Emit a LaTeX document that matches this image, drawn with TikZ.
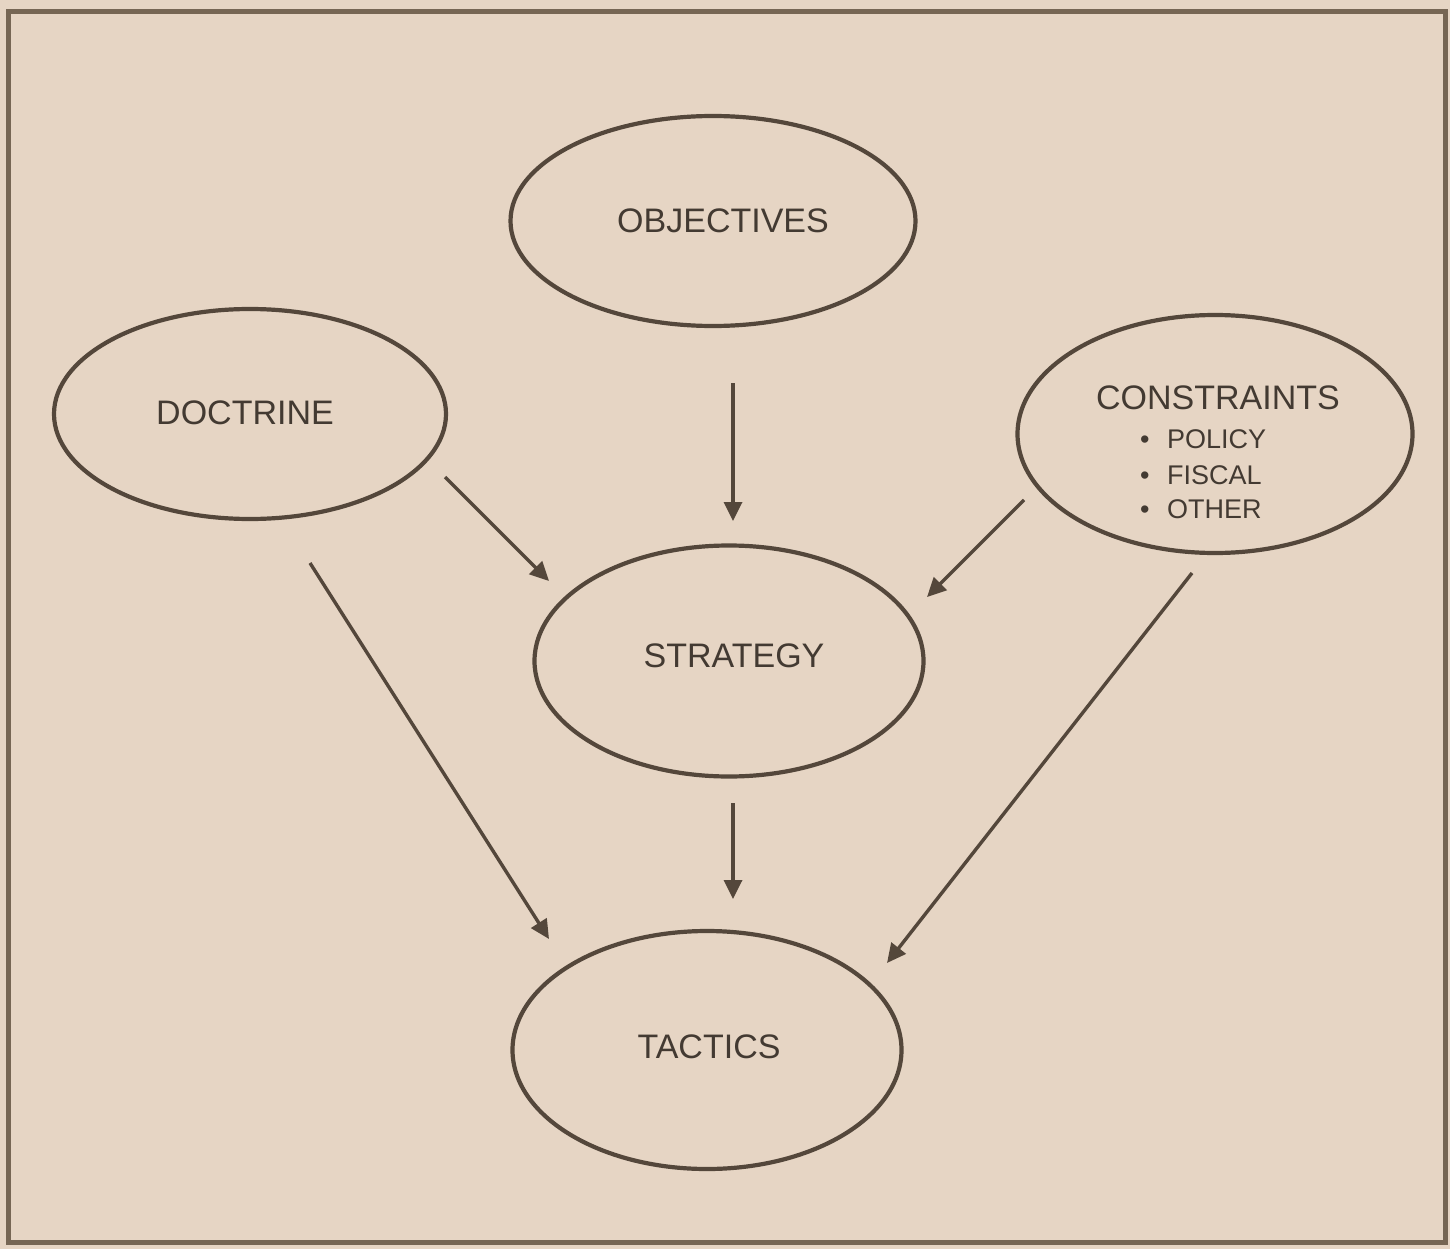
\documentclass[tikz,border=0pt]{standalone}
\usepackage{fontspec}
\setmainfont{Liberation Sans}
\usetikzlibrary{shapes.geometric,arrows.meta}
\definecolor{paper}{HTML}{E6D5C4}
\definecolor{frame}{HTML}{766654}
\definecolor{ink}{HTML}{54473B}
\definecolor{txt}{HTML}{433a32}
\begin{document}
\begin{tikzpicture}[x=1pt,y=-1pt,
  oval/.style={draw=ink,line width=4.2pt,ellipse,inner sep=0pt},
  lbl/.style={text=txt,font=\fontsize{34}{40}\selectfont,inner sep=0pt},
  sublbl/.style={text=txt,font=\fontsize{27}{32}\selectfont,inner sep=0pt,anchor=west},
  conn/.style={draw=ink,line width=3.4pt,-{Triangle[length=19pt,width=18pt]}}]
\fill[paper] (0,0) rectangle (1450,1249);
\useasboundingbox (0,0) rectangle (1450,1249);
\draw[frame,line width=5pt] (8,12) rectangle (1445,1242);
% ellipses
\node[oval,minimum width=405pt,minimum height=210pt] (obj) at (713,221) {};
\node[oval,minimum width=392pt,minimum height=210pt] (doc) at (250,414) {};
\node[oval,minimum width=395pt,minimum height=238pt] (con) at (1215,434) {};
\node[oval,minimum width=389pt,minimum height=231pt] (str) at (729,661) {};
\node[oval,minimum width=389pt,minimum height=238pt] (tac) at (707,1050) {};
% labels
\node[lbl] (objT) at (723,221) {OBJECTIVES};
\node[lbl] (docT) at (245,413) {DOCTRINE};
\node[lbl] (conT) at (1218,398) {CONSTRAINTS};
\node[sublbl] (pol) at (1140,439) {•\hspace{0.65em}POLICY};
\node[sublbl] (fis) at (1140,475) {•\hspace{0.65em}FISCAL};
\node[sublbl] (oth) at (1140,509) {•\hspace{0.65em}OTHER};
\node[lbl] (strT) at (734,656) {STRATEGY};
\node[lbl] (tacT) at (709,1047) {TACTICS};
% connector ends
\coordinate (a1s) at (733,383); \coordinate (a1e) at (733,521);
\coordinate (a2s) at (445,477); \coordinate (a2e) at (549,581);
\coordinate (a3s) at (1024,500); \coordinate (a3e) at (927,597);
\coordinate (a4s) at (733,803); \coordinate (a4e) at (733,899);
\coordinate (a5s) at (310,563); \coordinate (a5e) at (549,939);
\coordinate (a6s) at (1192,573); \coordinate (a6e) at (887,963);
\draw[conn] (a1s) -- (a1e);
\draw[conn] (a2s) -- (a2e);
\draw[conn] (a3s) -- (a3e);
\draw[conn] (a4s) -- (a4e);
\draw[conn] (a5s) -- (a5e);
\draw[conn] (a6s) -- (a6e);
\end{tikzpicture}
\end{document}
